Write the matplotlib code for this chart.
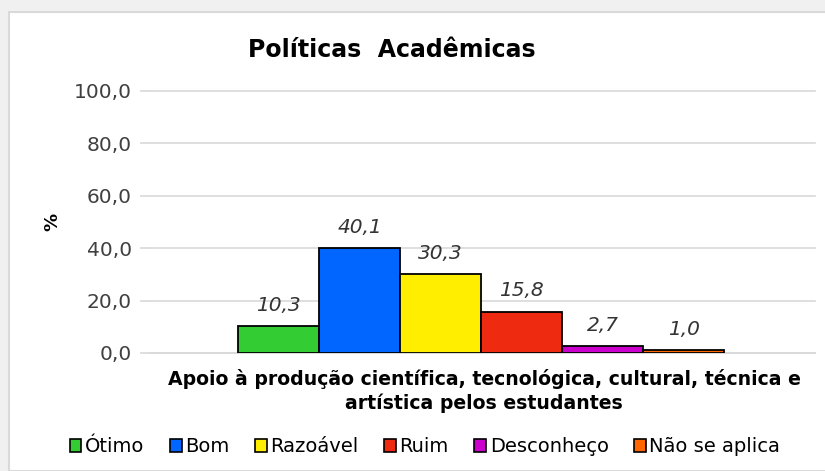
import matplotlib
matplotlib.use("Agg")
import matplotlib.pyplot as plt
from matplotlib.patches import Rectangle, Patch

categories = ["Ótimo", "Bom", "Razoável", "Ruim", "Desconheço", "Não se aplica"]
values = [10.3, 40.1, 30.3, 15.8, 2.7, 1.0]
colors = ["#33cc33", "#0066ff", "#ffee00", "#ee2a11", "#cc00cc", "#ff6600"]
yticks = [0, 20, 40, 60, 80, 100]
group_label = "Apoio à produção científica, tecnológica, cultural, técnica e\nartística pelos estudantes"
title = "Políticas  Acadêmicas"

plt.rcParams['font.family'] = ['DejaVu Sans']

W, H = 825, 471
fig = plt.figure(figsize=(W/100, H/100), dpi=100, facecolor="#f0f0f0")
bg = Rectangle((9/W, 0), 1, 1 - 12/H, transform=fig.transFigure,
               facecolor="white", edgecolor="#d9d9d9", linewidth=1.5, zorder=-5)
fig.patches.append(bg)

ax_l, ax_r = 150, 815
ax = fig.add_axes([ax_l/W, 1 - 353/H, (ax_r-ax_l)/W, (353-91)/H])
ax.set_zorder(2)
ax.set_facecolor("none")

n = len(values)
pw = ax_r - ax_l
bw = 81/pw
start = (238 - ax_l)/pw + bw/2
xs = [start + i*bw for i in range(n)]
bars = ax.bar(xs, values, width=bw, color=colors, edgecolor="black", linewidth=1.3, zorder=3)
for x, v in zip(xs, values):
    ax.annotate(f"{v:.1f}".replace(".", ","), (x, v), xytext=(0, 8), textcoords="offset points",
                ha="center", va="bottom", fontsize=14.5, style="italic", color="#333333")

ax.set_xlim(0, 1)
ax.set_ylim(0, 100)
ax.set_yticks(yticks)
ax.set_yticklabels([f"{t:.1f}".replace(".", ",") for t in yticks], fontsize=14.5, color="#404040")
ax.set_xticks([])
ax.yaxis.grid(True, color="#d9d9d9", linewidth=1.2, zorder=0)
for gl in ax.get_ygridlines():
    gl.set_clip_on(False)
ax.set_axisbelow(True)
ax.tick_params(axis="y", length=7, width=1.2, color="#d9d9d9", pad=6)
for s in ["top", "right", "left"]:
    ax.spines[s].set_visible(False)
ax.spines["bottom"].set_color("#d9d9d9")
ax.spines["bottom"].set_linewidth(1.2)

fig.text(52/W, 1 - 222/H, "%", rotation=90, ha="center", va="center", fontsize=13, fontweight="bold")
fig.text(392/W, 1 - 50/H, title, ha="center", va="center", fontsize=17, fontweight="bold")
fig.text(484/W, 1 - 391/H, group_label, ha="center", va="center", fontsize=13.6,
         fontweight="bold", linespacing=1.25)

handles = [Patch(facecolor=c, edgecolor="black", linewidth=1.2) for c in colors]
fig.legend(handles, categories, loc="center", bbox_to_anchor=(425/W, 1 - 447/H), ncol=6,
           frameon=False, handlelength=0.6, handleheight=0.6,
           handletextpad=0.2, columnspacing=1.3,
           prop={"family": ["DejaVu Sans"], "size": 14})

fig.savefig("out.png", dpi=100, facecolor=fig.get_facecolor())
